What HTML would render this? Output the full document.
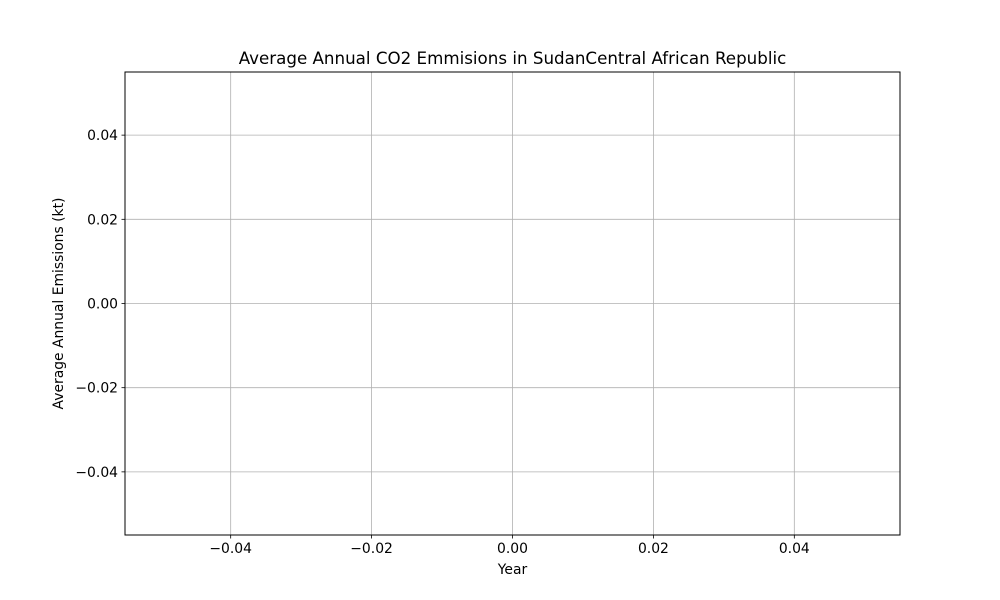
<!DOCTYPE html>
<html>
<head>
<meta charset="utf-8">
<style>
  html, body { margin: 0; padding: 0; background: #fff; }
  svg { display: block; font-family: "DejaVu Sans", "Liberation Sans", sans-serif; }
</style>
</head>
<body>
<svg id="chart" width="1000" height="600" viewBox="0 0 1000 600" xmlns="http://www.w3.org/2000/svg">
  <rect x="0" y="0" width="1000" height="600" fill="#fff"/>
  <g id="grid"></g>
  <g id="series"></g>
  <rect x="125" y="72" width="775" height="463" fill="none" stroke="#000" stroke-width="1"/>
  <g id="xticks"></g>
  <g id="yticks"></g>
  <text x="512.5" y="64" text-anchor="middle" font-size="16.7">Average Annual CO2 Emmisions in SudanCentral African Republic</text>
  <text x="512.5" y="574" text-anchor="middle" font-size="13.9">Year</text>
  <text x="0" y="0" text-anchor="middle" font-size="13.9" transform="translate(63,303.5) rotate(-90)">Average Annual Emissions (kt)</text>
</svg>
<script>
const years = [];
const emissions = [];
const xTickValues = [-0.04, -0.02, 0.00, 0.02, 0.04];
const xTickLabels = ["\u22120.04", "\u22120.02", "0.00", "0.02", "0.04"];
const yTickValues = [0.04, 0.02, 0.00, -0.02, -0.04];
const yTickLabels = ["0.04", "0.02", "0.00", "\u22120.02", "\u22120.04"];

const NS = "http://www.w3.org/2000/svg";
const L = 125, R = 900, T = 72, B = 535;
const xMin = -0.055, xMax = 0.055, yMin = -0.055, yMax = 0.055;
function xScale(v) { return L + (v - xMin) / (xMax - xMin) * (R - L); }
function yScale(v) { return B - (v - yMin) / (yMax - yMin) * (B - T); }
function mk(tag, attrs) { const e = document.createElementNS(NS, tag); for (const k in attrs) e.setAttribute(k, attrs[k]); return e; }

const grid = document.getElementById('grid');
const xg = document.getElementById('xticks');
const yg = document.getElementById('yticks');

xTickValues.forEach((v, i) => {
  const x = xScale(v);
  const gl = mk('line', {x1: x, x2: x, y1: T, y2: B, stroke: '#b0b0b0', 'stroke-width': 0.8});
  
  
  grid.appendChild(gl);
  const tk = mk('line', {x1: x, x2: x, y1: B, y2: B + 3.5, stroke: '#000', 'stroke-width': 0.8});
  
  
  xg.appendChild(tk);
  const t = mk('text', {x: x, y: B + 18, 'text-anchor': 'middle', 'font-size': 13.9});
  
  
  t.textContent = xTickLabels[i];
  xg.appendChild(t);
});

yTickValues.forEach((v, i) => {
  const y = yScale(v);
  const gl = mk('line', {x1: L, x2: R, y1: y, y2: y, stroke: '#b0b0b0', 'stroke-width': 0.8});
  
  
  grid.appendChild(gl);
  const tk = mk('line', {x1: L - 3.5, x2: L, y1: y, y2: y, stroke: '#000', 'stroke-width': 0.8});
  
  
  yg.appendChild(tk);
  const t = mk('text', {x: L - 7, y: y + 5, 'text-anchor': 'end', 'font-size': 13.9});
  
  
  t.textContent = yTickLabels[i];
  yg.appendChild(t);
});

if (years.length) {
  const pts = years.map((yr, i) => xScale(yr) + ',' + yScale(emissions[i])).join(' ');
  const pl = mk('polyline', {points: pts, fill: 'none', stroke: '#1f77b4', 'stroke-width': 1.5});
  
  
  document.getElementById('series').appendChild(pl);
}
</script>
</body>
</html>
